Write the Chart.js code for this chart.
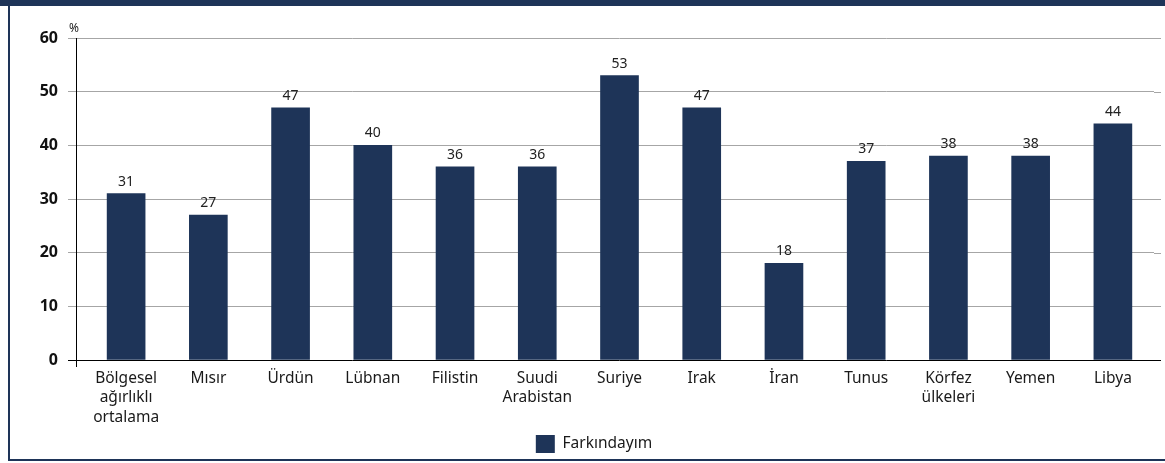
<!DOCTYPE html>
<html lang="tr">
<head>
<meta charset="UTF-8">
<title>Farkındayım</title>
<script src="https://cdn.jsdelivr.net/npm/chart.js"></script>
<style>
  html, body { margin: 0; padding: 0; background: #fff; }
  #wrap { position: relative; width: 1165px; height: 463px; overflow: hidden; }
  #topbar { position: absolute; left: 0; top: 0; width: 1165px; height: 6px; background: #1e3458; }
  #frame { position: absolute; left: 8px; top: 6px; width: 1157px; height: 455px;
           border-left: 2px solid #1e3458; border-bottom: 2px solid #1e3458; box-sizing: border-box; }
  canvas { position: absolute; left: 0; top: 0; }
</style>
</head>
<body>
<div id="wrap">
  <div id="topbar"></div>
  <div id="frame"></div>
  <canvas id="chart" width="1165" height="463"></canvas>
</div>
<script>
// categories (multi-line labels)
const categories = [
  ['Bölgesel', 'ağırlıklı', 'ortalama'],
  'Mısır',
  'Ürdün',
  'Lübnan',
  'Filistin',
  ['Suudi', 'Arabistan'],
  'Suriye',
  'Irak',
  'İran',
  'Tunus',
  ['Körfez', 'ülkeleri'],
  'Yemen',
  'Libya'
];
const seriesName = 'Farkındayım';
const values = [31, 27, 47, 40, 36, 36, 53, 47, 18, 37, 38, 38, 44];
const yTicks = [0, 10, 20, 30, 40, 50, 60];

const NAVY = '#1e3458';
const FONT = "'Noto Sans', 'Open Sans', sans-serif";

// extra axis lines, unit label and value labels
const decor = {
  id: 'decor',
  afterLayout(chart) {
    // legend sits a little right of the page centre in the original
    chart.legend.left += 17;
    chart.legend.right += 17;
  },
  afterDraw(chart) {
    const ctx = chart.ctx;
    const area = chart.chartArea;
    const y = chart.scales.y;
    ctx.save();
    // extend gridlines to the right
    yTicks.forEach(function (v) {
      const py = Math.round(y.getPixelForValue(v)) + 0.5;
      ctx.strokeStyle = v === 0 ? '#000' : '#a6a6a6';
      ctx.lineWidth = 1;
      ctx.beginPath();
      ctx.moveTo(area.right, py);
      ctx.lineTo(area.right + 7, py);
      ctx.stroke();
    });
    // vertical axis line
    const ax = area.left - 9 + 0.5;
    ctx.strokeStyle = '#000';
    ctx.beginPath();
    ctx.moveTo(ax, y.getPixelForValue(60));
    ctx.lineTo(ax, y.getPixelForValue(0) + 7);
    ctx.stroke();
    // unit label
    ctx.fillStyle = '#222';
    ctx.font = '12px ' + FONT;
    ctx.textAlign = 'left';
    ctx.textBaseline = 'bottom';
    ctx.fillText('%', area.left - 16, y.getPixelForValue(60) - 3);
    // value labels
    ctx.font = '14px ' + FONT;
    ctx.textAlign = 'center';
    ctx.textBaseline = 'bottom';
    chart.getDatasetMeta(0).data.forEach(function (bar, i) {
      ctx.fillText(String(values[i]), bar.x, bar.y - 5);
    });
    ctx.restore();
  }
};

new Chart(document.getElementById('chart'), {
  type: 'bar',
  data: {
    labels: categories,
    datasets: [{
      label: seriesName,
      data: values,
      backgroundColor: NAVY,
      borderWidth: 0,
      barThickness: 38
    }]
  },
  options: {
    responsive: false,
    animation: false,
    layout: { padding: { left: 0, right: 11, top: 38, bottom: 0 } },
    scales: {
      x: {
        afterFit(scale) { scale.height = 65; },
        grid: { display: false },
        border: { display: false },
        ticks: {
          color: '#1a1a1a',
          font: { family: FONT, size: 15.5, lineHeight: 1.25 },
          padding: 1,
          maxRotation: 0,
          autoSkip: false
        }
      },
      y: {
        min: 0,
        max: 60,
        afterFit(scale) { scale.width = 85; },
        afterBuildTicks(scale) { scale.ticks = yTicks.map(function (v) { return { value: v }; }); },
        border: { display: false },
        grid: {
          color: function (c) { return c.tick && c.tick.value === 0 ? '#000' : '#a6a6a6'; },
          lineWidth: 1,
          tickLength: 17
        },
        ticks: {
          color: '#111',
          font: { family: FONT, size: 16, weight: 'bold' },
          padding: 10
        }
      }
    },
    plugins: {
      legend: {
        position: 'bottom',
        labels: {
          color: '#1a1a1a',
          font: { family: FONT, size: 15.5 },
          boxWidth: 19,
          boxHeight: 18,
          padding: 10
        }
      },
      tooltip: { enabled: false }
    }
  },
  plugins: [decor]
});
</script>
</body>
</html>
